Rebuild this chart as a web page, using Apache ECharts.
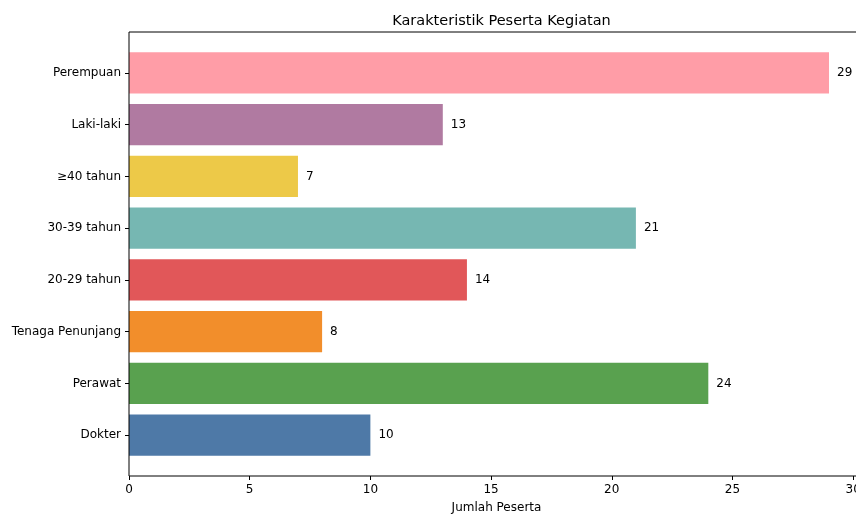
<!DOCTYPE html>
<html>
<head>
<meta charset="utf-8">
<script src="https://cdn.jsdelivr.net/npm/echarts@6/dist/echarts.min.js"></script>
<style>
  html, body { margin: 0; padding: 0; background: #fff; }
  #chart { width: 856px; height: 515px; }
</style>
</head>
<body>
<div id="chart"></div>
<script>
// Participant characteristics, listed bottom to top
const categories = ['Dokter', 'Perawat', 'Tenaga Penunjang', '20-29 tahun', '30-39 tahun', '≥40 tahun', 'Laki-laki', 'Perempuan'];
const counts = [10, 24, 8, 14, 21, 7, 13, 29];
const barColors = ['#4e79a7', '#59a14f', '#f28e2b', '#e15759', '#76b7b2', '#edc948', '#b07aa1', '#ff9da7'];
const xTicks = [0, 5, 10, 15, 20, 25, 30];

const titleText = 'Karakteristik Peserta Kegiatan';
const xTitle = 'Jumlah Peserta';

const X_MAX = 30.45;
const FONT = 'DejaVu Sans';

const chart = echarts.init(document.getElementById('chart'), null, { renderer: 'canvas' });

chart.setOption({
  animation: false,
  backgroundColor: '#fff',
  title: {
    text: titleText,
    left: 496.5,
    textAlign: 'center',
    top: 9,
    textStyle: { fontFamily: FONT, fontSize: 14.5, fontWeight: 'normal', color: '#000' }
  },
  grid: [
    // frame: spines and x ticks (extends past the right edge of the page)
    { left: 129, top: 32, right: -8, height: 444, outerBoundsMode: 'none', containLabel: false,
      show: true, borderColor: '#000', borderWidth: 1, backgroundColor: 'transparent', z: 5 },
    // bar area (category bands inset by the axis margin)
    { left: 129, top: 47, right: -8, height: 414, outerBoundsMode: 'none', containLabel: false }
  ],
  xAxis: [
    {
      gridIndex: 0, type: 'value', min: 0, max: X_MAX,
      axisLine: { show: false },
      axisTick: { show: true, inside: false, length: 4, lineStyle: { color: '#000' }, customValues: xTicks },
      axisLabel: { margin: 8, fontFamily: FONT, fontSize: 12, color: '#000', customValues: xTicks },
      splitLine: { show: false },
      name: xTitle, nameLocation: 'middle', nameGap: 26,
      nameTextStyle: { fontFamily: FONT, fontSize: 12, color: '#000' }
    },
    {
      gridIndex: 1, type: 'value', min: 0, max: X_MAX, show: false
    }
  ],
  yAxis: [
    { gridIndex: 0, type: 'value', min: 0, max: 1, show: false },
    {
      gridIndex: 1, type: 'category', data: categories,
      axisLine: { show: false },
      axisTick: { show: true, alignWithLabel: true, length: 4, lineStyle: { color: '#000' } },
      axisLabel: { margin: 8, fontFamily: FONT, fontSize: 12, color: '#000' },
      splitLine: { show: false }
    }
  ],
  series: [{
    type: 'bar',
    xAxisIndex: 1,
    yAxisIndex: 1,
    barWidth: '80%',
    data: counts.map((v, i) => ({ value: v, itemStyle: { color: barColors[i] } })),
    label: {
      show: true, position: 'right', distance: 8,
      fontFamily: FONT, fontSize: 12, color: '#000'
    }
  }]
});
</script>
</body>
</html>
